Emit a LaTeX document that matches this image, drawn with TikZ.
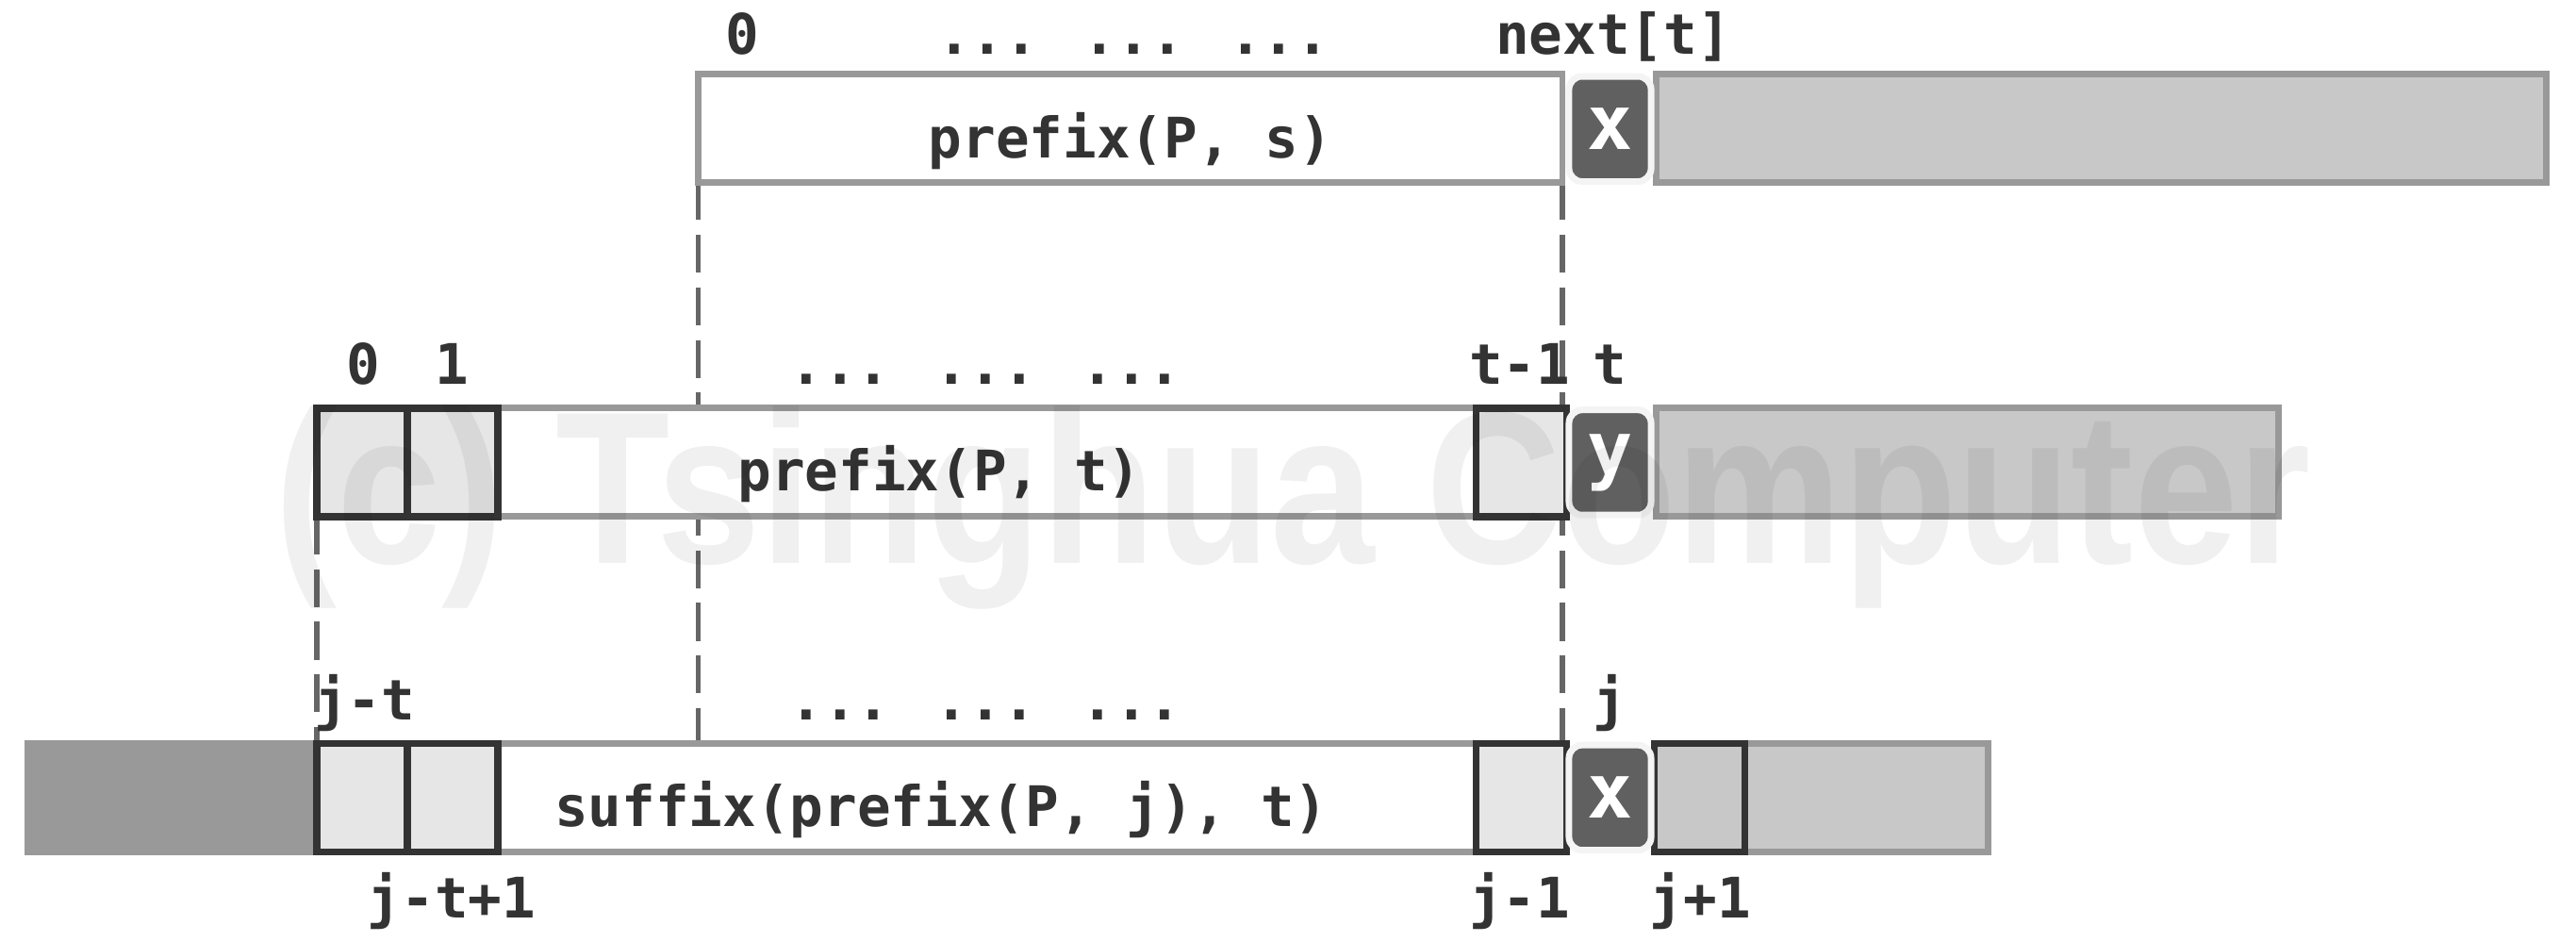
\documentclass[tikz,border=0pt]{standalone}
\usepackage{fontspec}
\newfontfamily\mono{DejaVu Sans Mono}
\newfontfamily\wmfont{Liberation Sans}
\definecolor{bgray}{HTML}{999999}
\definecolor{clight}{HTML}{E6E6E6}
\definecolor{cdark}{HTML}{333333}
\definecolor{gfill}{HTML}{C8C8C8}
\definecolor{dbar}{HTML}{999999}
\definecolor{chfill}{HTML}{606060}
\definecolor{chedge}{HTML}{F4F4F4}
\definecolor{dgray}{HTML}{666666}
\definecolor{txt}{HTML}{333333}
\pgfdeclarelayer{bg}
\pgfdeclarelayer{fg}
\pgfsetlayers{bg,main,fg}
\begin{document}
\begin{tikzpicture}[x=0.5pt,y=-0.5pt,
 bar/.style={draw=bgray,line width=2pt,inner sep=0pt,outer sep=0pt,minimum height=33pt},
 cellbox/.style={draw=cdark,line width=2.2pt,fill=clight,inner sep=0pt,outer sep=0pt,minimum width=27.5pt,minimum height=33pt},
 chr/.style={fill=chfill,draw=chedge,line width=2pt,rounded corners=4pt,inner sep=0pt,outer sep=0pt,minimum width=25pt,minimum height=32pt,text=white,font=\mono\bfseries\fontsize{23}{23}\selectfont},
 lbl/.style={text=txt,font=\mono\bfseries\fontsize{17}{17}\selectfont,inner sep=0pt,anchor=base},
 dashline/.style={draw=dgray,line width=1.6pt,dash pattern=on 11.5pt off 4.5pt}]
\useasboundingbox (0,0) rectangle (1568,573);
% top row
\node[bar,fill=white,minimum width=263pt] (ps) at (688,78) {};
\node[bar,fill=gfill,minimum width=271pt] (g1) at (1279,78) {};
% middle row
\node[bar,fill=white,minimum width=379pt] (pt) at (573,281.5) {};
\node[bar,fill=gfill,minimum width=189.5pt] (g2) at (1197.5,281.5) {};
\node[cellbox] (m0) at (220.5,281.5) {};
\node[cellbox] (m1) at (275.5,281.5) {};
\node[cellbox] (mt) at (926,281.5) {};
% bottom row
\node[bar,draw=dbar,fill=dbar,minimum width=87.5pt] (lb) at (104.5,485.5) {};
\node[bar,fill=white,minimum width=379pt] (sb) at (573,485.5) {};
\node[bar,fill=gfill,minimum width=101pt] (g3) at (1109,485.5) {};
\node[cellbox] (b0) at (220.5,485.5) {};
\node[cellbox] (b1) at (275.5,485.5) {};
\node[cellbox] (bj) at (926,485.5) {};
\node[cellbox,fill=gfill] (bk) at (1034.5,485.5) {};
% characters
\node[chr] (x1) at (980,78.5) {x};
\node[chr] (y1) at (980,281.5) {y};
\node[chr] (x2) at (980,485.5) {x};
% bar texts
\node[lbl] (tps) at (688,96) {prefix(P, s)};
\node[lbl] (tpt) at (572,299) {prefix(P, t)};
\node[lbl] (tsb) at (573,503) {suffix(prefix(P, j), t)};
% labels
\node[lbl] (l0) at (452,33) {0};
\node[lbl] (ld1) at (690,33) {... ... ...};
\node[lbl] (lnx) at (982,33) {next[t]};
\node[lbl] (m0l) at (221,234) {0};
\node[lbl] (m1l) at (275,234) {1};
\node[lbl] (ld2) at (600,234) {... ... ...};
\node[lbl] (ltm) at (925,234) {t-1};
\node[lbl] (lt) at (980,234) {t};
\node[lbl] (ljt) at (222,438) {j-t};
\node[lbl] (ld3) at (600,438) {... ... ...};
\node[lbl] (lj) at (980,438) {j};
\node[lbl] (ljt1) at (275,559) {j-t+1};
\node[lbl] (ljm) at (925,559) {j-1};
\node[lbl] (ljp) at (1035,559) {j+1};
% dashed guides
\begin{pgfonlayer}{bg}
\draw[dashline] (ps.south west) -- (ps.south west |- sb.north);
\draw[dashline] (ps.south east) -- (ps.south east |- sb.north);
\draw[dashline] (m0.south west) -- (b0.north west);
\end{pgfonlayer}
% watermark
\begin{pgfonlayer}{fg}
\node[font=\wmfont\bfseries\fontsize{57}{57}\selectfont,text=black,text opacity=0.06,yscale=1.16,anchor=base,inner sep=0pt] (wm) at (787,343) {(c) Tsinghua Computer};
\end{pgfonlayer}
\end{tikzpicture}
\end{document}
